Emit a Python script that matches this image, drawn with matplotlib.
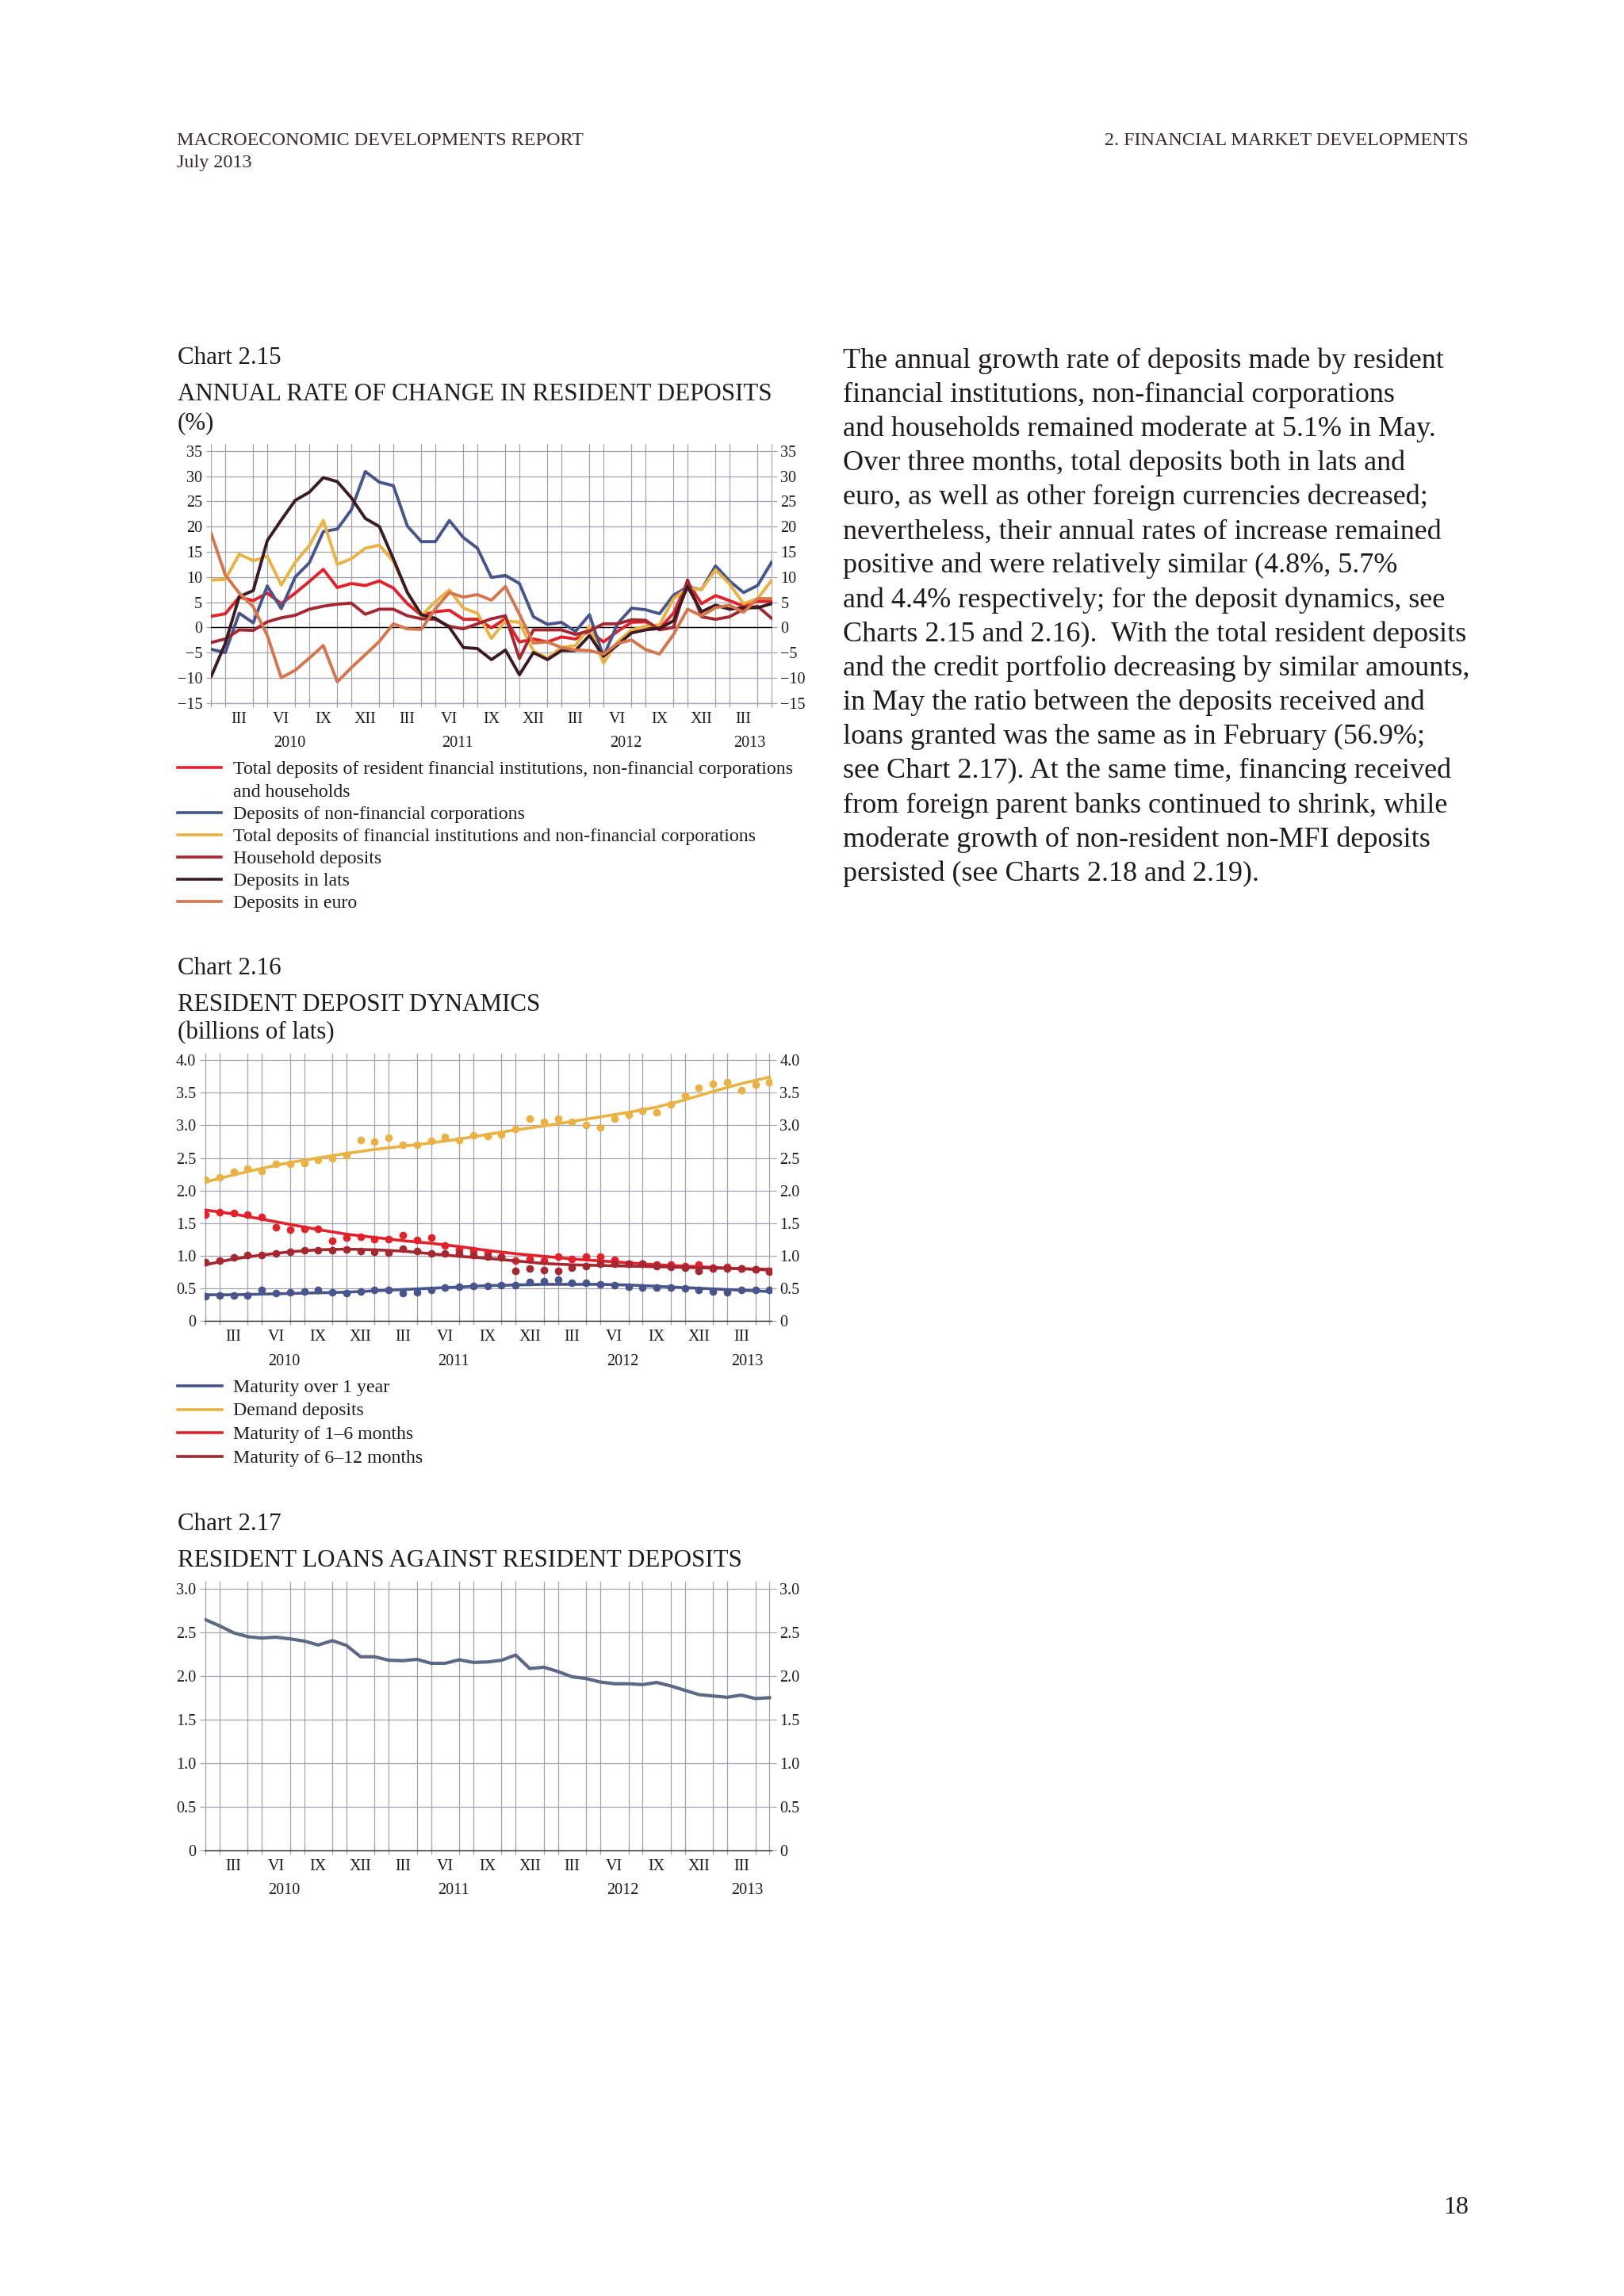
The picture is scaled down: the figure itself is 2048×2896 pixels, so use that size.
import matplotlib
matplotlib.use("Agg")
import matplotlib.pyplot as plt
import matplotlib.transforms as mtransforms
import numpy as np

plt.rcParams['font.family'] = ['Liberation Serif', 'DejaVu Serif']

# ---- common time axis: Jan 2010 .. May 2013 (41 months)
months = np.arange(41)
quarter_pos = [2, 5, 8, 11, 14, 17, 20, 23, 26, 29, 32, 35, 38]
quarter_labels = ['III', 'VI', 'IX', 'XII'] * 3 + ['III']
year_pos = [5.6, 17.6, 29.6, 38.4]
year_labels = ['2010', '2011', '2012', '2013']

# ---- Chart 2.15: annual rate of change (%)
total_dep = [2.2, 2.7, 6.0, 5.3, 6.8, 4.7, 6.8, 9.1, 11.5, 7.9, 8.7, 8.3, 9.2, 7.8, 4.7, 2.4, 3.1, 3.4, 1.6, 1.6, -0.1,
             1.7, -2.9, -2.3, -2.9, -1.9, -2.3, -0.7, -2.9, -0.8, 1.0, 1.1, -0.2, 2.8, 9.0, 4.7, 6.3, 5.3, 4.2, 5.2, 5.1]
nfc_dep = [-4.35, -5.0, 2.8, 0.9, 8.2, 3.7, 10.0, 12.8, 19.0, 19.5, 23.3, 30.9, 28.8, 28.1, 20.1, 17.0, 17.0, 21.2, 17.8, 15.7, 9.9,
           10.3, 8.7, 2.1, 0.6, 1.0, -0.8, 2.5, -5.8, 0.7, 3.8, 3.5, 2.7, 6.4, 8.0, 7.5, 12.2, 9.2, 6.9, 8.3, 12.9]
fi_nfc_dep = [9.4, 9.5, 14.5, 13.2, 14.1, 8.4, 12.9, 16.2, 21.2, 12.5, 13.6, 15.7, 16.3, 13.1, 7.0, 2.3, 5.1, 7.4, 3.8, 2.8, -2.2,
              1.3, 1.0, -4.7, -6.1, -4.0, -3.6, 0.2, -7.1, -2.9, -0.5, 0.2, 0.5, 5.7, 7.8, 7.5, 11.4, 8.6, 4.7, 5.7, 9.3]
household_dep = [-3.0, -2.3, -0.5, -0.6, 1.1, 1.9, 2.4, 3.6, 4.2, 4.6, 4.8, 2.6, 3.6, 3.6, 2.3, 1.7, 1.6, 0.2, -0.3, 0.7, 1.7,
                 2.3, -6.2, -0.5, -0.5, -0.5, -1.4, -0.7, 0.7, 0.7, 1.5, 1.4, -0.5, 0.0, 9.4, 2.1, 1.6, 2.1, 3.6, 4.2, 1.8]
lats_dep = [-9.7, -3.2, 6.1, 7.3, 17.2, 21.3, 25.2, 26.8, 29.7, 28.9, 25.7, 21.6, 20.0, 13.6, 6.9, 2.5, 1.8, 0.0, -4.0, -4.2, -6.4,
            -4.5, -9.4, -5.0, -6.4, -4.6, -4.6, -1.6, -5.7, -3.5, -1.1, -0.5, -0.2, 1.3, 8.1, 3.1, 4.4, 3.6, 3.9, 3.9, 4.7]
euro_dep = [18.6, 10.4, 6.8, 4.1, -1.6, -10.0, -8.5, -6.1, -3.6, -10.8, -8.0, -5.4, -2.8, 0.7, -0.3, -0.4, 3.7, 6.9, 6.0, 6.5, 5.4,
            8.1, 2.6, -3.1, -2.9, -4.0, -4.5, -4.6, -5.3, -3.2, -2.5, -4.4, -5.3, -1.4, 3.6, 2.3, 3.9, 4.4, 3.0, 5.7, 5.7]
c15_ticks = [-15, -10, -5, 0, 5, 10, 15, 20, 25, 30, 35]
c15_ticklabels = ['\u221215', '\u221210', '\u22125', '0', '5', '10', '15', '20', '25', '30', '35']
c15_names = [['Total deposits of resident financial institutions, non-financial corporations', 'and households'],
             ['Deposits of non-financial corporations'],
             ['Total deposits of financial institutions and non-financial corporations'],
             ['Household deposits'], ['Deposits in lats'], ['Deposits in euro']]

# ---- Chart 2.16: resident deposit dynamics (billions of lats); dots and trend (every 2nd month)
over1y = [0.38, 0.39, 0.39, 0.39, 0.47, 0.43, 0.44, 0.45, 0.47, 0.44, 0.42, 0.45, 0.47, 0.48, 0.43, 0.44, 0.48, 0.51, 0.52, 0.53, 0.54,
          0.55, 0.55, 0.60, 0.61, 0.63, 0.59, 0.58, 0.56, 0.55, 0.52, 0.51, 0.51, 0.51, 0.50, 0.48, 0.45, 0.44, 0.47, 0.47, 0.47]
demand = [2.16, 2.20, 2.29, 2.34, 2.30, 2.41, 2.41, 2.42, 2.47, 2.49, 2.54, 2.77, 2.75, 2.81, 2.70, 2.70, 2.76, 2.82, 2.77, 2.85, 2.83,
          2.86, 2.95, 3.10, 3.05, 3.10, 3.05, 3.01, 2.97, 3.10, 3.16, 3.23, 3.20, 3.32, 3.45, 3.58, 3.64, 3.66, 3.54, 3.63, 3.66]
m1_6 = [1.63, 1.67, 1.66, 1.63, 1.59, 1.43, 1.40, 1.41, 1.41, 1.23, 1.28, 1.29, 1.25, 1.25, 1.31, 1.24, 1.28, 1.15, 1.10, 1.08, 1.05,
        0.98, 0.92, 0.95, 0.92, 0.99, 0.95, 0.99, 0.99, 0.94, 0.88, 0.88, 0.86, 0.86, 0.84, 0.86, 0.82, 0.83, 0.80, 0.79, 0.75]
m6_12 = [0.90, 0.92, 0.97, 1.01, 1.01, 1.04, 1.06, 1.08, 1.08, 1.08, 1.10, 1.07, 1.06, 1.05, 1.11, 1.07, 1.03, 1.03, 1.03, 1.01, 0.99,
         0.97, 0.77, 0.80, 0.78, 0.77, 0.82, 0.84, 0.87, 0.88, 0.88, 0.88, 0.84, 0.83, 0.82, 0.77, 0.80, 0.80, 0.80, 0.79, 0.77]
trend_months = np.arange(0, 41, 2)
over1y_trend = [0.40, 0.40, 0.41, 0.42, 0.43, 0.44, 0.46, 0.48, 0.50, 0.52, 0.54, 0.55, 0.56, 0.56, 0.56, 0.55, 0.53, 0.51, 0.49, 0.47, 0.45]
demand_trend = [2.13, 2.24, 2.34, 2.43, 2.50, 2.57, 2.63, 2.68, 2.73, 2.79, 2.86, 2.93, 2.99, 3.06, 3.13, 3.20, 3.28, 3.39, 3.52, 3.64, 3.74]
m1_6_trend = [1.70, 1.64, 1.56, 1.48, 1.40, 1.33, 1.28, 1.23, 1.19, 1.14, 1.08, 1.03, 0.99, 0.95, 0.92, 0.89, 0.86, 0.84, 0.82, 0.80, 0.78]
m6_12_trend = [0.86, 0.95, 1.01, 1.06, 1.09, 1.10, 1.09, 1.07, 1.03, 0.99, 0.96, 0.92, 0.88, 0.86, 0.85, 0.84, 0.83, 0.82, 0.81, 0.80, 0.79]
c16_ticks = [0, 0.5, 1.0, 1.5, 2.0, 2.5, 3.0, 3.5, 4.0]
c16_ticklabels = ['0', '0.5', '1.0', '1.5', '2.0', '2.5', '3.0', '3.5', '4.0']
c16_names = ['Maturity over 1 year', 'Demand deposits', 'Maturity of 1\u20136 months', 'Maturity of 6\u201312 months']

# ---- Chart 2.17: resident loans against resident deposits
loans_to_dep = [2.645, 2.575, 2.495, 2.45, 2.435, 2.445, 2.425, 2.40, 2.355, 2.405, 2.35, 2.22, 2.22, 2.18, 2.175, 2.19, 2.145,
                2.145, 2.185, 2.155, 2.16, 2.18, 2.24, 2.085, 2.10, 2.05, 1.99, 1.97, 1.93, 1.91, 1.91, 1.90, 1.925, 1.885,
                1.835, 1.785, 1.77, 1.755, 1.78, 1.74, 1.75]
c17_ticks = [0, 0.5, 1.0, 1.5, 2.0, 2.5, 3.0]
c17_ticklabels = ['0', '0.5', '1.0', '1.5', '2.0', '2.5', '3.0']

body = ["The annual growth rate of deposits made by resident",
        "financial institutions, non-financial corporations",
        "and households remained moderate at 5.1% in May.",
        "Over three months, total deposits both in lats and",
        "euro, as well as other foreign currencies decreased;",
        "nevertheless, their annual rates of increase remained",
        "positive and were relatively similar (4.8%, 5.7%",
        "and 4.4% respectively; for the deposit dynamics, see",
        "Charts 2.15 and 2.16).  With the total resident deposits",
        "and the credit portfolio decreasing by similar amounts,",
        "in May the ratio between the deposits received and",
        "loans granted was the same as in February (56.9%;",
        "see Chart 2.17). At the same time, financing received",
        "from foreign parent banks continued to shrink, while",
        "moderate growth of non-resident non-MFI deposits",
        "persisted (see Charts 2.18 and 2.19)."]

RED = '#e3212b'
BLUE = '#47558c'
GOLD = '#e9b243'
DKRED = '#a5272f'
LATS = '#3b1a24'
EURO = '#d6744a'
SLATE = '#5b6984'
GRID = '#a3a3ad'
INK = '#1f1b1c'
TICKFS = 14.5
LEGFS = 17.2
TITLEFS = 22.3

W, H = 2048, 2896
fig = plt.figure(figsize=(W / 100, H / 100), dpi=100, facecolor='white')

page = fig.add_axes([0, 0, 1, 1])
page.set_xlim(0, W)
page.set_ylim(H, 0)
page.axis('off')


def px_axes(x0, top, x1, bottom):
    return fig.add_axes([x0 / W, 1 - bottom / H, (x1 - x0) / W, (bottom - top) / H])


def setup(ax, ylim, ticks, ticklabels, base_color):
    ax.set_xlim(-0.05, 40.05)
    ax.set_ylim(*ylim)
    ax.set_facecolor('none')
    ax.set_yticks(ticks, ticklabels)
    ax.set_xticks(months, minor=True)
    ax.set_xticks(quarter_pos, quarter_labels)
    ax.grid(axis='x', which='minor', color=GRID, lw=0.9)
    ax.grid(axis='y', which='major', color=GRID, lw=0.9)
    ax.set_axisbelow(True)
    for s in ['top', 'left', 'right']:
        ax.spines[s].set_visible(False)
    ax.spines['bottom'].set_color(base_color)
    ax.spines['bottom'].set_linewidth(1.0)
    ax.tick_params(axis='x', which='major', length=0, pad=8, labelsize=TICKFS, labelcolor=INK)
    ax.tick_params(axis='x', which='minor', direction='inout', length=7, color=GRID, width=0.9)
    ax.tick_params(axis='y', which='major', left=True, right=True, labelleft=True, labelright=True,
                   length=4, color=GRID, width=0.9, pad=3.5, labelsize=TICKFS, labelcolor=INK)
    off = mtransforms.offset_copy(mtransforms.blended_transform_factory(ax.transData, ax.transAxes),
                                  fig=fig, x=0, y=-51, units='dots')
    for xp, lab in zip(year_pos, year_labels):
        ax.text(xp, 0, lab, transform=off, ha='center', va='center', fontsize=TICKFS, color=INK)


# ---- header, body text, page number
page.text(223, 183, 'MACROECONOMIC DEVELOPMENTS REPORT', fontsize=17.4, color='#3a2a2e', va='baseline')
page.text(223, 211, 'July 2013', fontsize=17.4, color='#3a2a2e', va='baseline')
page.text(1852, 183, '2. FINANCIAL MARKET DEVELOPMENTS', fontsize=17.4, color='#3a2a2e', va='baseline', ha='right')
for k, line in enumerate(body):
    page.text(1063, 463.6 + 43.15 * k, line, fontsize=26, color=INK, va='baseline')
page.text(1852, 2792, '18', fontsize=23, color=INK, va='baseline', ha='right')

# ---- Chart 2.15
page.text(223.5, 459, 'Chart 2.15', fontsize=TITLEFS, color=INK, va='baseline')
page.text(223.5, 505, 'ANNUAL RATE OF CHANGE IN RESIDENT DEPOSITS', fontsize=TITLEFS, color=INK, va='baseline')
page.text(223.5, 541, '(%)', fontsize=TITLEFS, color=INK, va='baseline')
ax1 = px_axes(265.5, 560, 973.9, 886.7)
setup(ax1, (-15, 36.37), c15_ticks, c15_ticklabels, GRID)
ax1.axhline(0, color='black', lw=1.0, zorder=1.5)
series15 = [total_dep, nfc_dep, fi_nfc_dep, household_dep, lats_dep, euro_dep]
colors15 = [RED, BLUE, GOLD, DKRED, LATS, EURO]
for vals, col in zip(series15, colors15):
    ax1.plot(months, vals, color=col, lw=2.8, zorder=3)

leg15_y = [968, 1025, 1053, 1081, 1109, 1137]
for y, col, name in zip(leg15_y, colors15, c15_names):
    page.plot([223.5, 278.5], [y, y], color=col, lw=2.6)
    for j, part in enumerate(name):
        page.text(294, y + 8 + 28.7 * j, part, fontsize=LEGFS, color=INK, va='baseline')

# ---- Chart 2.16
page.text(223.5, 1229.4, 'Chart 2.16', fontsize=TITLEFS, color=INK, va='baseline')
page.text(223.5, 1275, 'RESIDENT DEPOSIT DYNAMICS', fontsize=TITLEFS, color=INK, va='baseline')
page.text(223.5, 1310, '(billions of lats)', fontsize=TITLEFS, color=INK, va='baseline')
ax2 = px_axes(257.5, 1329, 973, 1666)
setup(ax2, (0, 4.1), c16_ticks, c16_ticklabels, '#2a2a2a')
ax2.set_xlim(-0.09, 40.15)
colors16 = [BLUE, GOLD, RED, DKRED]
for dots, trend, col in zip([over1y, demand, m1_6, m6_12],
                            [over1y_trend, demand_trend, m1_6_trend, m6_12_trend], colors16):
    ax2.plot(months, dots, 'o', color=col, ms=7, mec='none', zorder=3)
    ax2.plot(trend_months, trend, color=col, lw=2.6, zorder=3)

leg16_y = [1748, 1777.5, 1807, 1837]
for y, col, name in zip(leg16_y, colors16, c16_names):
    page.plot([223.5, 279.5], [y, y], color=col, lw=2.6)
    page.text(294, y + 8, name, fontsize=LEGFS, color=INK, va='baseline')

# ---- Chart 2.17
page.text(223.5, 1930, 'Chart 2.17', fontsize=TITLEFS, color=INK, va='baseline')
page.text(223.5, 1976, 'RESIDENT LOANS AGAINST RESIDENT DEPOSITS', fontsize=TITLEFS, color=INK, va='baseline')
ax3 = px_axes(257.5, 1995, 973, 2333.6)
setup(ax3, (0, 3.082), c17_ticks, c17_ticklabels, '#2a2a2a')
ax3.set_xlim(-0.09, 40.15)
ax3.plot(months, loans_to_dep, color=SLATE, lw=3.0, zorder=3)

fig.savefig('out.png', dpi=100, facecolor='white')
